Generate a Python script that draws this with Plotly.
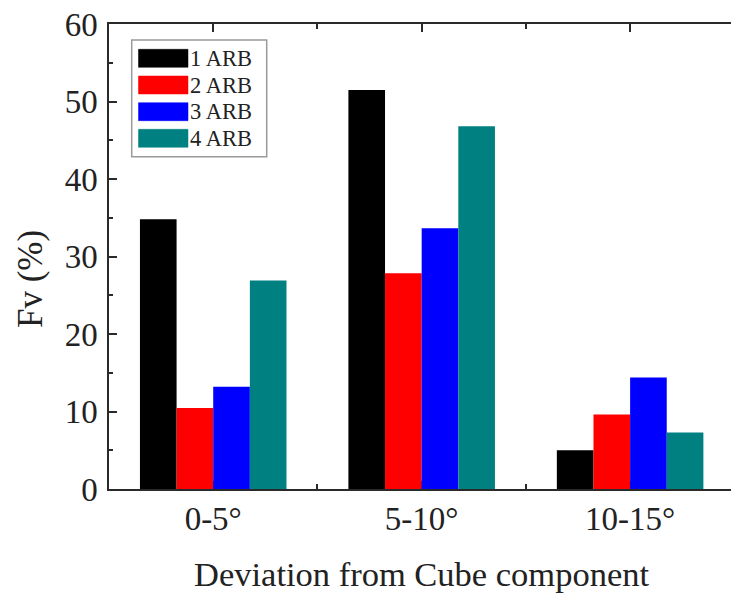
import plotly.graph_objects as go

categories = ["0-5°", "5-10°", "10-15°"]
series_names = ["1 ARB", "2 ARB", "3 ARB", "4 ARB"]
arb1 = [34.8, 51.5, 5.0]
arb2 = [10.45, 27.85, 9.6]
arb3 = [13.2, 33.65, 14.4]
arb4 = [26.9, 46.8, 7.3]
series_values = [arb1, arb2, arb3, arb4]
colors = ["#000000", "#FF0000", "#0000FF", "#008080"]
y_tickvals = [0, 10, 20, 30, 40, 50, 60]

FONT = "Liberation Serif, Times New Roman, serif"
AX = "#2a2a2a"

W, H = 731, 595
ML, MR, MT, MB = 109, 0, 24, 106
PW, PH = W - ML - MR, H - MT - MB

def px(x):
    return (x - ML) / PW

def py(y):
    return (H - MB - y) / PH

xpos = list(range(len(categories)))
fig = go.Figure()
for name, vals, c in zip(series_names, series_values, colors):
    fig.add_trace(go.Bar(x=xpos, y=vals, name=name, marker=dict(color=c, line=dict(width=0)),
                         showlegend=False))

# manual legend
shapes = [dict(type="rect", xref="paper", yref="paper",
               x0=px(131.7), x1=px(266.7), y0=py(156.7), y1=py(40),
               line=dict(color="#9a9a9a", width=1.5), fillcolor="white", layer="above")]
annotations = []
row_centers = [58.3, 85.0, 111.7, 138.3]
for name, c, yc in zip(series_names, colors, row_centers):
    shapes.append(dict(type="rect", xref="paper", yref="paper",
                       x0=px(138.5), x1=px(188), y0=py(yc + 9), y1=py(yc - 9),
                       line=dict(color=c, width=0.5), fillcolor=c, layer="above"))
    annotations.append(dict(text=name, xref="paper", yref="paper", x=px(188), y=py(yc),
                            xanchor="left", yanchor="middle", showarrow=False,
                            font=dict(family=FONT, size=22.5, color="#222")))

annotations.append(dict(text="Fv (%)", xref="paper", yref="paper", x=px(30), y=py(279),
                        xanchor="center", yanchor="middle", textangle=-90, showarrow=False,
                        font=dict(family=FONT, size=35, color="#222")))
annotations.append(dict(text="Deviation from Cube component", xref="paper", yref="paper",
                        x=px(422), y=py(574), xanchor="center", yanchor="middle",
                        showarrow=False, font=dict(family=FONT, size=34.5, color="#222")))

fig.update_layout(
    width=W, height=H,
    margin=dict(l=ML, r=MR, t=MT, b=MB),
    paper_bgcolor="white", plot_bgcolor="white",
    barmode="group", bargap=0.297, bargroupgap=0,
    shapes=shapes, annotations=annotations,
    font=dict(family=FONT, color="#222"),
    xaxis=dict(range=[-0.5, 2.484], tickvals=xpos, ticktext=categories,
               ticks="inside", ticklen=8, tickwidth=1.5, tickcolor=AX,
               showline=True, linecolor=AX, linewidth=1.5, mirror="allticks",
               showgrid=False, zeroline=False, layer="below traces",
               tickfont=dict(family=FONT, size=33, color="#222"),
               minor=dict(tickvals=[i + 0.5 for i in xpos[:-1]], ticks="inside",
                          ticklen=5, tickwidth=1.5, tickcolor=AX, showgrid=False)),
    yaxis=dict(range=[0, 60], tickvals=y_tickvals, ticks="inside", ticklen=8,
               tickwidth=1.5, tickcolor=AX, showline=True, linecolor=AX, linewidth=1.5,
               showgrid=False, zeroline=False, layer="below traces",
               ticklabelstandoff=3,
               tickfont=dict(family=FONT, size=33, color="#222"),
               minor=dict(dtick=5, ticks="inside", ticklen=4, tickwidth=1.5,
                          tickcolor=AX, showgrid=False)),
    yaxis2=dict(range=[0, 60], overlaying="y", side="right", anchor="x",
                tickvals=y_tickvals, ticks="inside", ticklen=4, tickwidth=1.5,
                tickcolor=AX, showline=False, showgrid=False, zeroline=False,
                showticklabels=False,
                minor=dict(dtick=5, ticks="inside", ticklen=2, tickwidth=1.5,
                           tickcolor=AX, showgrid=False)),
)

fig.write_html("out.html")
